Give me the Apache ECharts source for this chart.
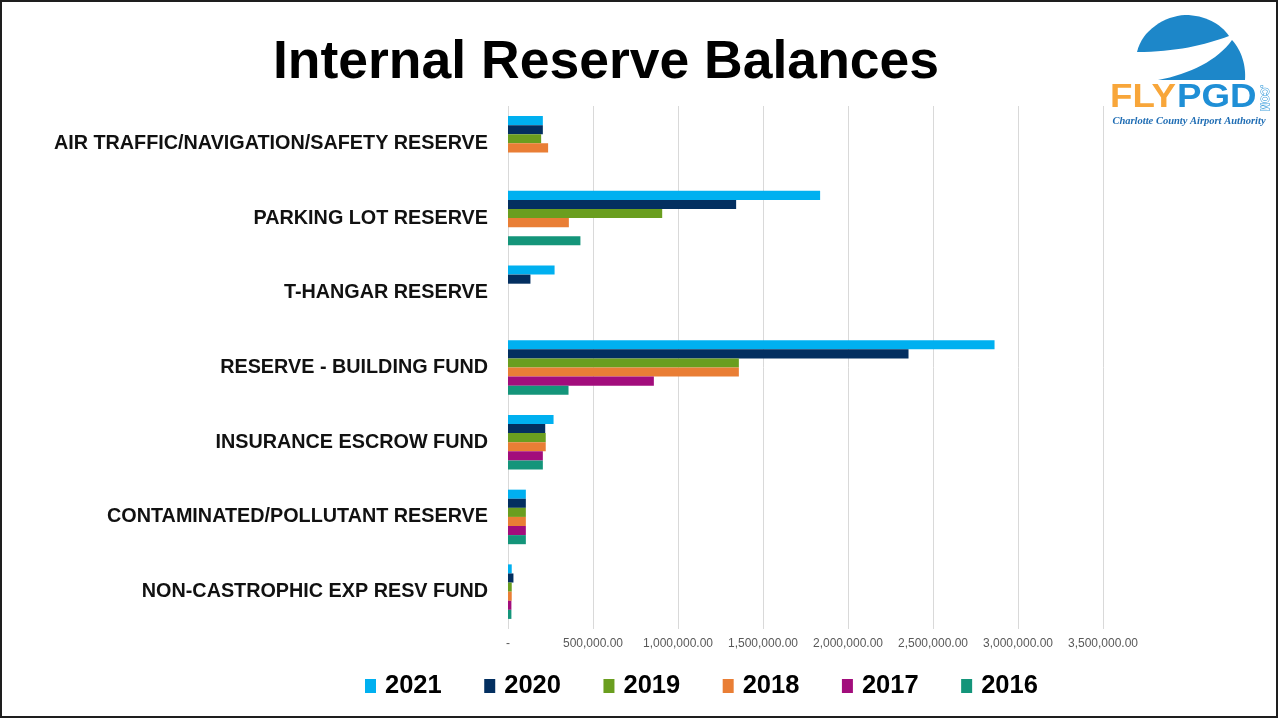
<!DOCTYPE html>
<html>
<head>
<meta charset="utf-8">
<title>Internal Reserve Balances</title>
<script src="https://cdn.jsdelivr.net/npm/echarts@6/dist/echarts.min.js"></script>
<style>
  html, body { margin: 0; padding: 0; background: #ffffff; }
  #chart { width: 1279px; height: 719px; }
</style>
</head>
<body>
<div id="chart"></div>
<script>
// Reserve funds, listed top to bottom
const categories = [
  'AIR TRAFFIC/NAVIGATION/SAFETY RESERVE',
  'PARKING LOT RESERVE',
  'T-HANGAR RESERVE',
  'RESERVE - BUILDING FUND',
  'INSURANCE ESCROW FUND',
  'CONTAMINATED/POLLUTANT RESERVE',
  'NON-CASTROPHIC EXP RESV FUND'
];

// Year-end balances (USD); null = no balance that year
const years = ['2021', '2020', '2019', '2018', '2017', '2016'];
const bal2021 = [205000, 1836000, 274000, 2862000, 268000, 105000, 22000];
const bal2020 = [205000, 1342000, 132000, 2356000, 219000, 105000, 32000];
const bal2019 = [195000, 907000, null, 1358000, 222000, 105000, 22000];
const bal2018 = [236000, 358000, null, 1358000, 222000, 105000, 22000];
const bal2017 = [null, null, null, 858000, 205000, 105000, 20000];
const bal2016 = [null, 426000, null, 356000, 205000, 105000, 20000];

const yearColors = ['#00b0f0', '#032f60', '#6a9e1f', '#e97e35', '#a20d7c', '#14957a'];
const balances = [bal2021, bal2020, bal2019, bal2018, bal2017, bal2016];

const chart = echarts.init(document.getElementById('chart'), null, { renderer: 'canvas' });

function moneyLabel(v) {
  if (v === 0) return '-';
  return v.toLocaleString('en-US', { minimumFractionDigits: 2, maximumFractionDigits: 2 });
}

// Flatten a chain of cubic bezier segments into polygon points (logo outline)
function bezierOutline(start, segments, steps) {
  const pts = [start];
  let p0 = start;
  segments.forEach(([c1, c2, p3]) => {
    for (let k = 1; k <= steps; k++) {
      const t = k / steps, u = 1 - t;
      pts.push([
        u * u * u * p0[0] + 3 * u * u * t * c1[0] + 3 * u * t * t * c2[0] + t * t * t * p3[0],
        u * u * u * p0[1] + 3 * u * u * t * c1[1] + 3 * u * t * t * c2[1] + t * t * t * p3[1]
      ]);
    }
    p0 = p3;
  });
  return pts;
}

const domeTop = bezierOutline([1137, 52], [
  [[1142, 30], [1165, 16], [1185, 15]],
  [[1205, 15], [1221, 24], [1229, 36]],
  [[1205, 45], [1175, 52], [1137, 52]]
], 16);
const domeBottom = bezierOutline([1158, 80], [
  [[1190, 74], [1218, 60], [1232, 40]],
  [[1242, 51], [1246, 66], [1245, 80]]
], 16);

const series = years.map((y, i) => ({
  name: y,
  type: 'bar',
  data: balances[i],
  barGap: '0%',
  barCategoryGap: '27%',
  itemStyle: { color: yearColors[i] },
  emphasis: { disabled: true }
}));

const option = {
  backgroundColor: '#ffffff',
  animation: false,
  color: yearColors,
  title: {
    text: 'Internal Reserve Balances',
    left: 601,
    top: 31,
    textAlign: 'center',
    textStyle: {
      fontFamily: 'Liberation Sans',
      fontWeight: 'bold',
      fontSize: 53.5,
      color: '#000000'
    }
  },
  grid: { left: 508, right: 176, top: 106, bottom: 90, containLabel: false },
  xAxis: {
    type: 'value',
    min: 0,
    max: 3500000,
    interval: 500000,
    axisLine: { show: false },
    axisTick: { show: false },
    splitLine: { show: true, lineStyle: { color: '#d9d9d9', width: 1 } },
    axisLabel: {
      formatter: moneyLabel,
      color: '#595959',
      fontFamily: 'Liberation Sans',
      fontSize: 12,
      margin: 9
    }
  },
  yAxis: {
    type: 'category',
    data: categories,
    inverse: true,
    axisLine: { show: false },
    axisTick: { show: false },
    splitLine: { show: false },
    axisLabel: {
      color: '#111111',
      fontFamily: 'Liberation Sans',
      fontWeight: 'bold',
      fontSize: 19.8,
      margin: 20,
      padding: [3, 0, 0, 0]
    }
  },
  legend: {
    data: years,
    left: 360,
    top: 668,
    itemWidth: 11,
    itemHeight: 14,
    itemGap: 42.5,
    icon: 'rect',
    selectedMode: false,
    textStyle: {
      fontFamily: 'Liberation Sans',
      fontWeight: 'bold',
      fontSize: 25.5,
      color: '#000000',
      padding: [0, 0, 0, 4]
    }
  },
  series: series,
  graphic: [
    // page frame
    {
      type: 'rect',
      shape: { x: 1, y: 1, width: 1276, height: 716 },
      style: { fill: 'none', stroke: '#1e1e1e', lineWidth: 2 },
      silent: true
    },
    // FLYPGD logo: dome split by a swoosh
    {
      type: 'polygon',
      shape: { points: domeTop },
      style: { fill: '#1d87c9' },
      silent: true
    },
    {
      type: 'polygon',
      shape: { points: domeBottom },
      style: { fill: '#1d87c9' },
      silent: true
    },
    {
      type: 'group',
      x: 1110,
      y: 98,
      scaleX: 1.08,
      children: [
        {
          type: 'text',
          style: {
            text: 'FLY',
            x: 0, y: 0,
            fontFamily: 'Liberation Sans',
            fontWeight: 'bold',
            fontSize: 34,
            fill: '#f8a63a',
            verticalAlign: 'middle',
            align: 'left'
          },
          silent: true
        },
        {
          type: 'text',
          style: {
            text: 'PGD',
            x: 62, y: 0,
            fontFamily: 'Liberation Sans',
            fontWeight: 'bold',
            fontSize: 34,
            fill: '#1f8fd6',
            verticalAlign: 'middle',
            align: 'left'
          },
          silent: true
        }
      ]
    },
    {
      type: 'text',
      x: 1264,
      y: 98,
      rotation: -Math.PI / 2,
      style: {
        text: '.COM',
        fontFamily: 'Liberation Sans',
        fontWeight: 'bold',
        fontSize: 10,
        fill: '#ffffff',
        stroke: '#1f8fd6',
        lineWidth: 1,
        align: 'center',
        verticalAlign: 'middle'
      },
      silent: true
    },
    {
      type: 'text',
      x: 1189,
      y: 121,
      style: {
        text: 'Charlotte County Airport Authority',
        fontFamily: 'Liberation Serif',
        fontStyle: 'italic',
        fontWeight: 'bold',
        fontSize: 10.5,
        fill: '#1f6db4',
        align: 'center',
        verticalAlign: 'middle'
      },
      silent: true
    }
  ]
};

chart.setOption(option);
</script>
</body>
</html>
